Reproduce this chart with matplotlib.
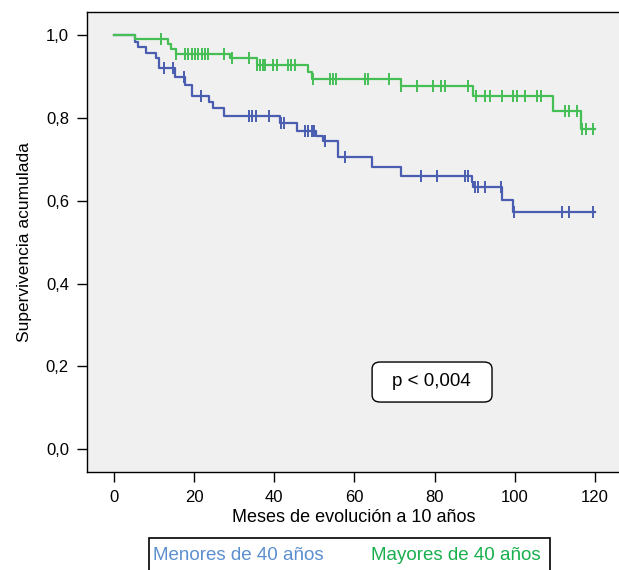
import numpy as np
import matplotlib
matplotlib.use("Agg")
from matplotlib import pyplot as plt
from matplotlib.patches import FancyBboxPatch, Rectangle

plt.rcParams['font.family'] = ['Liberation Sans', 'DejaVu Sans']

# Mayores de 40 años (green)
may_step_t = [5.2, 13.4, 14.3, 15.4, 29.0, 35.6, 48.5, 49.5, 71.5, 89.6, 109.6, 116.4]
may_step_s = [0.990, 0.978, 0.966, 0.955, 0.944, 0.927, 0.912, 0.895, 0.877, 0.852, 0.816, 0.773]
may_cens = [11.7, 15.6, 17.7, 18.5, 19.4, 20.2, 21.0, 21.9, 22.7, 23.5, 27.5, 29.5, 33.7,
            35.8, 36.4, 37.2, 37.7, 39.7, 40.6, 43.5, 44.3, 45.2, 49.7, 53.9, 54.7, 55.5,
            62.6, 63.5, 68.7, 71.7, 75.7, 79.7, 81.5, 82.6, 88.4, 90.3, 92.6, 93.8, 96.7,
            99.5, 100.5, 102.5, 105.6, 106.5, 112.5, 113.4, 115.6, 116.7, 117.8, 119.6]

# Menores de 40 años (blue)
men_step_t = [5.2, 6.1, 8.1, 10.4, 11.2, 15.2, 17.7, 19.5, 23.7, 24.8, 27.5, 41.4, 45.6,
              50.3, 52.2, 55.8, 64.5, 71.6, 89.2, 89.5, 96.7, 99.6]
men_step_s = [0.984, 0.972, 0.958, 0.944, 0.920, 0.900, 0.879, 0.853, 0.839, 0.824, 0.805,
              0.788, 0.769, 0.757, 0.745, 0.705, 0.681, 0.660, 0.646, 0.634, 0.603, 0.572]
men_cens = [12.6, 14.8, 17.6, 21.7, 33.7, 34.5, 35.4, 38.7, 41.7, 42.5, 47.7, 48.5, 49.3,
            50.0, 52.7, 57.6, 76.6, 80.7, 87.6, 88.3, 90.1, 90.9, 92.6, 96.6, 99.7, 111.7,
            113.6, 119.6]

t_end = 120
xticks = [0, 20, 40, 60, 80, 100, 120]
yticks = [0.0, 0.2, 0.4, 0.6, 0.8, 1.0]
ytick_labels = ["0,0", "0,2", "0,4", "0,6", "0,8", "1,0"]

blue = "#4a5db0"
green = "#45be55"


def draw_km(ax, step_t, step_s, cens, color):
    t = np.array([0] + step_t + [t_end])
    s = np.array([1.0] + step_s + [step_s[-1]])
    ax.step(t, s, where="post", color=color, lw=1.6)
    cens = np.array(cens)
    idx = np.searchsorted(t, cens, side="right") - 1
    ax.plot(cens, s[idx], ls="none", marker="|", ms=8, mew=1.4, color=color)


fig = plt.figure(figsize=(6.19, 5.70), dpi=100)
ax = fig.add_axes([0.1405, 0.172, 0.861, 0.807])
ax.set_facecolor("#f0f0f0")

draw_km(ax, men_step_t, men_step_s, men_cens, blue)
draw_km(ax, may_step_t, may_step_s, may_cens, green)

ax.set_xlim(-6.7, 126.2)
ax.set_ylim(-0.055, 1.056)
ax.set_xticks(xticks)
ax.set_yticks(yticks)
ax.set_yticklabels(ytick_labels)
ax.tick_params(direction="out", length=7, width=1, labelsize=12, pad=6)
for sp in ax.spines.values():
    sp.set_linewidth(1.0)
ax.spines["right"].set_visible(False)

ax.set_xlabel("Meses de evolución a 10 años", fontsize=13, labelpad=3)
ax.set_ylabel("Supervivencia acumulada", fontsize=12.5, labelpad=10)

# p-value box
ax.add_patch(FancyBboxPatch((0.535, 0.152), 0.225, 0.087, transform=ax.transAxes,
                            boxstyle="round,pad=0,rounding_size=0.015",
                            fc="white", ec="black", lw=1))
ax.text(0.647, 0.196, "p < 0,004", transform=ax.transAxes, ha="center", va="center",
        fontsize=13.5)

# legend box at the bottom
fig.patches.append(Rectangle((0.241, -0.02), 0.648, 0.076, transform=fig.transFigure,
                             fc="white", ec="black", lw=1.2))
fig.text(0.247, 0.0246, "Menores de 40 años", color="#5b8fd0", fontsize=13.5, va="center")
fig.text(0.600, 0.0246, "Mayores de 40 años", color="#18b04e", fontsize=13.5, va="center")

fig.savefig("out.png", dpi=100)
